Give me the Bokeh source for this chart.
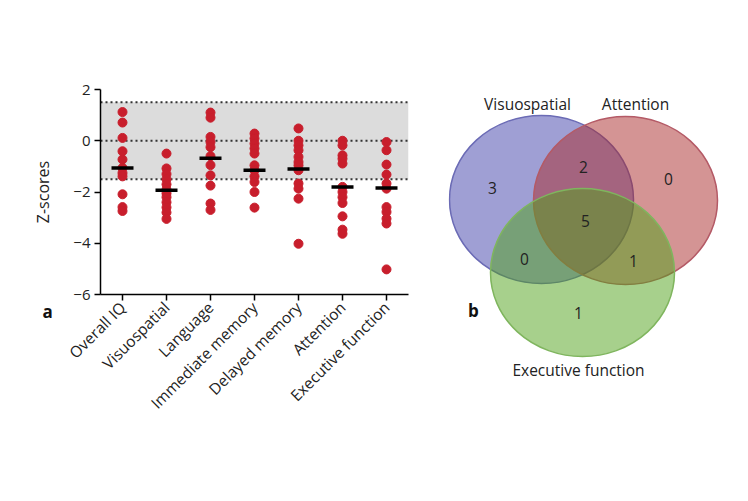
from math import pi
from bokeh.plotting import figure
from bokeh.models import Range1d, FactorRange, BoxAnnotation, Span, Label, FixedTicker, Title
from bokeh.layouts import row, column
from bokeh.embed import file_html
from bokeh.resources import INLINE

# ---------------- data (panel a) ----------------
categories = ["Overall IQ", "Visuospatial", "Language", "Immediate memory",
              "Delayed memory", "Attention", "Executive function"]
overall_iq = [1.12, 0.71, 0.11, -0.41, -0.73, -1.06, -1.26, -1.39, -2.09, -2.59, -2.74]
visuospatial = [-0.5, -1.08, -1.3, -1.5, -1.7, -1.9, -2.05, -2.2, -2.4, -2.6, -2.8, -3.05]
language = [1.1, 0.9, 0.15, -0.05, -0.25, -0.6, -0.95, -1.35, -1.75, -2.45, -2.7]
immediate_memory = [0.28, 0.09, -0.11, -0.3, -0.5, -0.96, -1.15, -1.39, -1.61, -2.0, -2.61]
delayed_memory = [0.48, 0.0, -0.18, -0.37, -0.63, -0.83, -0.96, -1.15, -1.67, -1.87, -2.26, -4.02]
attention = [0.0, -0.18, -0.57, -0.7, -0.89, -1.8, -2.0, -2.2, -2.43, -2.95, -3.47, -3.63]
executive_function = [-0.05, -0.37, -0.93, -1.32, -1.67, -1.87, -2.59, -2.78, -3.04, -3.23, -5.02]
medians = [-1.06, -1.93, -0.68, -1.15, -1.1, -1.8, -1.84]
y_ticks = [2, 0, -2, -4, -6]
normal_band = [-1.5, 1.5]

# ---------------- data (panel b) ----------------
venn_sets = ["Visuospatial", "Attention", "Executive function"]
# regions: V only, A only, E only, V&A, V&E, A&E, all three
venn_counts = [3, 0, 1, 2, 0, 1, 5]

FONT = "Open Sans"
series = [overall_iq, visuospatial, language, immediate_memory,
          delayed_memory, attention, executive_function]
xs, ys = [], []
for cat, vals in zip(categories, series):
    xs += [cat] * len(vals)
    ys += vals

H = 500

# ---------------- panel a ----------------
p = figure(width=448, height=H, output_backend="svg", toolbar_location=None,
           x_range=FactorRange(factors=categories), y_range=Range1d(-6, 2),
           min_border_left=100, min_border_right=40, min_border_top=89,
           min_border_bottom=H - 294)
p.outline_line_color = None
p.grid.visible = False

p.add_layout(BoxAnnotation(bottom=normal_band[0], top=normal_band[1],
                           fill_color="#dcdcdc", fill_alpha=1.0,
                           line_color=None, level="underlay"))
for yv in [normal_band[1], 0, normal_band[0]]:
    p.add_layout(Span(location=yv, dimension="width", line_color="#333333",
                      line_width=2, line_dash="2 3", level="underlay"))

p.scatter(xs, ys, size=9, fill_color="#c81e2c", line_color="#c81e2c")
p.scatter(categories, medians, marker="dash", size=22, line_width=3.5,
          line_color="black")

p.yaxis.ticker = FixedTicker(ticks=y_ticks)
p.yaxis.major_label_overrides = {t: (str(t).replace("-", "\u2212")) for t in y_ticks}
p.yaxis.axis_label = "Z-scores"
p.yaxis.axis_label_text_font = FONT
p.yaxis.axis_label_text_font_style = "normal"
p.yaxis.axis_label_text_font_size = "16px"
p.yaxis.axis_label_text_color = "#222222"
p.yaxis.axis_label_standoff = 16
p.yaxis.minor_tick_line_color = None

for ax in [p.xaxis[0], p.yaxis[0]]:
    ax.axis_line_color = "black"
    ax.axis_line_width = 1.5
    ax.major_tick_line_color = "black"
    ax.major_tick_line_width = 1.5
    ax.major_tick_in = 0
    ax.major_tick_out = 6
    ax.major_label_text_font = FONT
    ax.major_label_text_color = "#222222"
    ax.major_label_standoff = 4

p.yaxis.major_label_text_font_size = "15px"
p.xaxis.major_label_text_font_size = "15.5px"
p.xaxis.major_label_orientation = pi / 4

# panel letter "a": a title in the bottom panel, pulled up beside the axis
panel_a = Title(text="a", text_font=FONT, text_font_style="bold",
                text_font_size="17px", text_color="#111111",
                align="left", vertical_align="top", offset=-58)
try:
    panel_a.standoff = -250
except Exception:
    panel_a.standoff = 0
p.add_layout(panel_a, "below")

# ---------------- panel b (Venn) ----------------
v = figure(width=299, height=H, output_backend="svg", toolbar_location=None,
           x_range=Range1d(448, 747), y_range=Range1d(H, 0),
           x_axis_location=None, y_axis_location=None,
           min_border_left=0, min_border_right=0, min_border_top=0,
           min_border_bottom=0)
v.outline_line_color = None
v.grid.visible = False

# layout of circles (page pixel space)
circ_x = [541, 625, 582]
circ_y = [199, 200, 272]
circ_w = 184
circ_h = 168
circ_fill = ["#3f3fa9", "#a92929", "#4fa119"]
circ_line = ["#6b6bb5", "#b45a66", "#7fb55e"]
for cx, cy, fc, lc in zip(circ_x, circ_y, circ_fill, circ_line):
    v.ellipse(x=cx, y=cy, width=circ_w, height=circ_h, fill_color=fc,
              fill_alpha=0.5, line_color=lc, line_width=1.5)

set_label_x = [527, 635, 578]
set_label_y = [103, 103, 369]
v.text(x=set_label_x, y=set_label_y, text=venn_sets, text_font={"value": FONT},
       text_font_size="15.5px", text_color="#222222", text_align="center",
       text_baseline="middle")

count_x = [492, 668, 578, 583, 524, 633, 585]
count_y = [187, 178, 312, 166, 258, 260, 220]
v.text(x=count_x, y=count_y, text=[str(c) for c in venn_counts],
       text_font={"value": FONT}, text_font_size="15.5px", text_color="#222222",
       text_align="center", text_baseline="middle")

v.add_layout(Label(x=473, y=310, text="b", text_font=FONT,
                   text_font_style="bold", text_font_size="17px",
                   text_color="#111111", text_align="center",
                   text_baseline="middle"))

layout = row(p, column(v))
open("out.html", "w").write(file_html(layout, INLINE))
